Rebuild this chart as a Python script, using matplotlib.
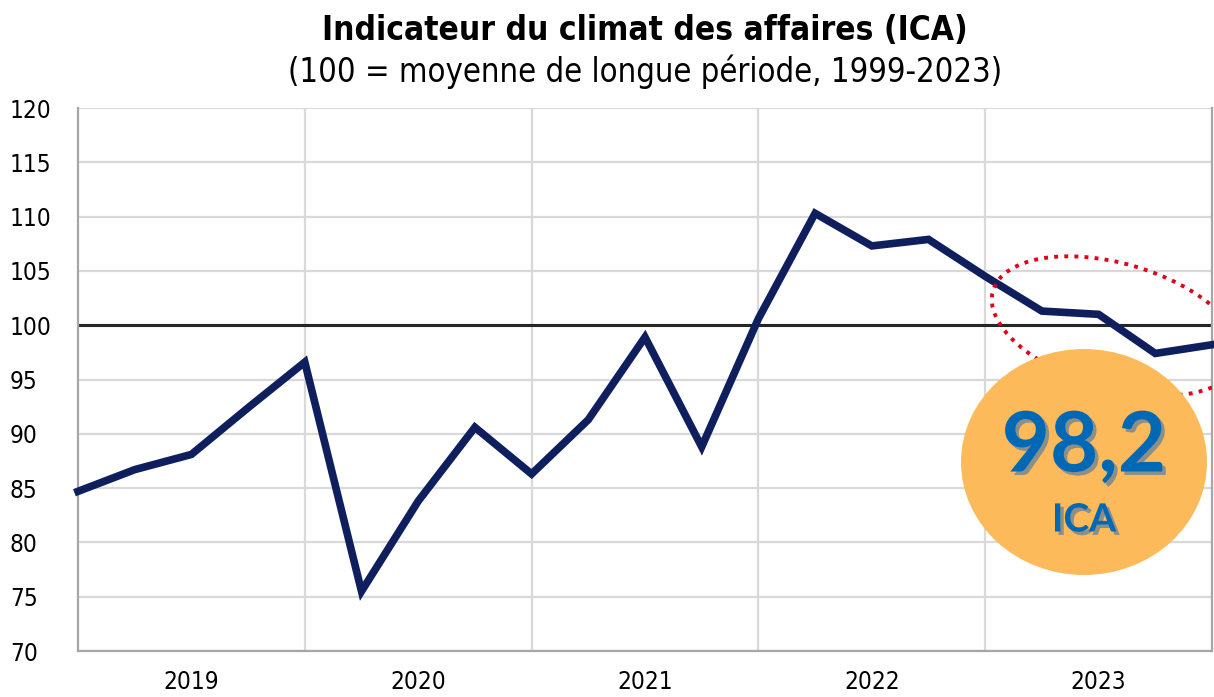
import matplotlib
matplotlib.use("Agg")
import matplotlib.pyplot as plt
import matplotlib.patheffects as pe
from matplotlib.patches import Ellipse
from matplotlib.transforms import Affine2D

# quarterly values of the business climate indicator
quarters = list(range(21))
ica = [84.7, 86.7, 88.1, 92.4, 96.6, 75.5, 83.8, 90.6, 86.3, 91.3, 98.9,
       88.8, 100.6, 110.3, 107.3, 107.9, 104.5, 101.3, 101.0, 97.4, 98.2]
years = ["2019", "2020", "2021", "2022", "2023"]
year_centers = [2, 6, 10, 14, 18]
year_bounds = [4, 8, 12, 16]
yticks = list(range(70, 121, 5))
last_value = "98,2"

W, H = 1214, 697
fig = plt.figure(figsize=(W / 100, H / 100), dpi=100)
ax = fig.add_axes([78 / W, 46 / H, 1134 / W, 543 / H])

font = ["DejaVu Sans"]
grid_c = "#d9d9d9"

ax.set_xlim(0, 20)
ax.set_ylim(70, 120)
ax.set_yticks(yticks)
ax.set_yticklabels([str(v) for v in yticks], fontsize=17.5, family=font,
                   fontstretch="condensed", ha="left")
ax.tick_params(axis="y", length=0, pad=49)
ax.set_xticks(year_bounds)
ax.set_xticklabels([])
ax.set_xticks(year_centers, minor=True)
ax.set_xticklabels(years, minor=True, fontsize=17.5, family=font,
                   fontstretch="condensed")
ax.tick_params(axis="x", which="both", length=0, pad=14)

ax.grid(axis="y", color=grid_c, lw=1.6, zorder=0)
ax.grid(axis="x", which="major", color=grid_c, lw=1.6, zorder=0)
for s in ax.spines.values():
    s.set_color("#a6a6a6")
    s.set_linewidth(1.6)
ax.spines["top"].set_visible(False)

ax.axhline(100, color="#262626", lw=2.2, zorder=2)
ax.plot(quarters, ica, color="#0f1f5e", lw=5.5, solid_joinstyle="miter",
        zorder=3, clip_on=False)

# titles
fig.text(645 / W, 1 - 30 / H, "Indicateur du climat des affaires (ICA)",
         ha="center", va="center", fontsize=24, fontweight="bold",
         family=font, fontstretch="condensed")
fig.text(645 / W, 1 - 72 / H, "(100 = moyenne de longue période, 1999-2023)",
         ha="center", va="center", fontsize=23.5, family=font,
         fontstretch="condensed")

# annotation in image pixel coordinates
px = Affine2D().scale(1 / W, 1 / H) + fig.transFigure
dotted = Ellipse((1116, H - 326), 256, 125, angle=-16, transform=px,
                 fill=False, ec="#e2001a", lw=2.8, ls=(0, (1, 1.6)), zorder=5)
ax.add_patch(dotted)
dotted.set_clip_path(ax.patch)
badge = Ellipse((1084, H - 462), 246, 226, transform=px, fc="#fcba5b",
                ec="none", zorder=6)
ax.add_patch(badge)
shadow = [pe.SimplePatchShadow(offset=(2.5, -2.5), shadow_rgbFace="#8c8f88",
                               alpha=1), pe.Normal()]
fig.text(1084 / W, 1 - 448 / H, last_value, ha="center", va="center",
         fontsize=60, fontweight="bold", color="#0068b4", family=["Lato"],
         path_effects=shadow, zorder=7)
fig.text(1084 / W, 1 - 520 / H, "ICA", ha="center", va="center",
         fontsize=28, fontweight="bold", color="#0068b4", family=["Lato"],
         path_effects=shadow, zorder=7)

fig.savefig("out.png", dpi=100)
